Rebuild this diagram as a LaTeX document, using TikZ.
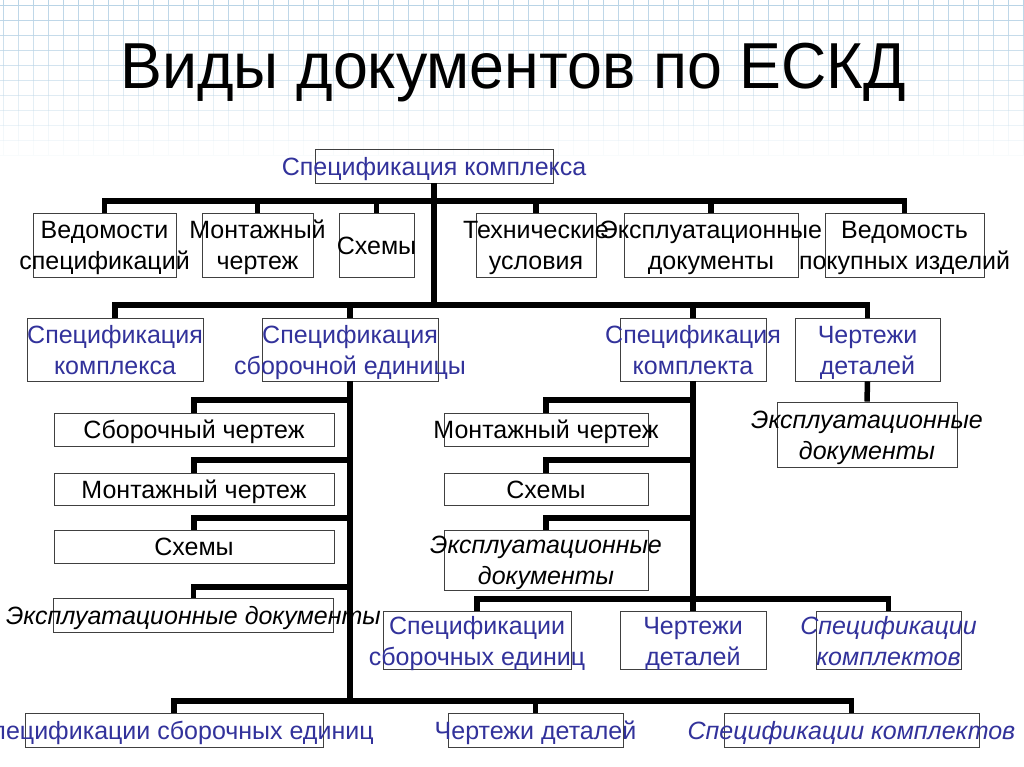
\documentclass[tikz,border=0pt]{standalone}
\usepackage{fontspec}
\setmainfont{Liberation Sans}
\definecolor{tblue}{RGB}{50,50,155}
\definecolor{gridc}{RGB}{185,212,230}
\begin{document}
\begin{tikzpicture}[x=1pt,y=-1pt,
  bx/.style={draw=black!75, line width=0.9pt, inner sep=0pt},
  tx/.style={font=\fontsize{25}{31}\selectfont, align=center, inner sep=0pt, yshift=-3pt},
  txi/.style={font=\fontsize{25}{31}\selectfont\itshape, align=center, inner sep=0pt, yshift=-3pt},
  bus/.style={line width=5.5pt, line join=miter}]
\useasboundingbox (0,0) rectangle (1024,767);
\fill[white] (0,0) rectangle (1024,767);
% grid paper, fading downwards
\foreach \r in {0,...,10} {
  \pgfmathsetmacro\op{1-\r/11}
  \draw[gridc, opacity=\op, line width=0.8pt] (0,\r*15+5) -- (1024,\r*15+5);
  \draw[gridc, opacity=\op, line width=0.8pt] \foreach \c in {0,...,68} {(\c*15+3,\r*15-10) -- ++(0,15)};
}
% title
\node[font=\fontsize{65}{70}\selectfont, anchor=base, xscale=0.965] (title) at (513,89) {Виды документов по ЕСКД};
% top
\node[bx, minimum width=238pt, minimum height=34pt] (top) at (434,166) {};
\node[tx, text=tblue] (topt) at (top) {\strut Спецификация комплекса};
% level 1
\node[bx, minimum width=143pt, minimum height=64pt] (vs) at (104.5,245) {};
\node[tx] (vst) at (vs) {\strut Ведомости\\\strut спецификаций};
\node[bx, minimum width=111pt, minimum height=64pt] (mc) at (257.5,245) {};
\node[tx] (mct) at (mc) {\strut Монтажный\\\strut чертеж};
\node[bx, minimum width=75pt, minimum height=64pt] (sh) at (376.5,245) {};
\node[tx] (sht) at (sh) {\strut Схемы};
\node[bx, minimum width=120pt, minimum height=64pt] (tu) at (536,245) {};
\node[tx] (tut) at (tu) {\strut Технические\\\strut условия};
\node[bx, minimum width=174pt, minimum height=64pt] (ed) at (711,245) {};
\node[tx] (edt) at (ed) {\strut Эксплуатационные\\\strut документы};
\node[bx, minimum width=159pt, minimum height=64pt] (vp) at (904.5,245) {};
\node[tx] (vpt) at (vp) {\strut Ведомость\\\strut покупных изделий};
% level 2
\node[bx, minimum width=176pt, minimum height=63pt] (sk) at (115,349.5) {};
\node[tx, text=tblue] (skt0) at (sk) {\strut Спецификация\\\strut комплекса};
\node[bx, minimum width=176pt, minimum height=63pt] (sse) at (350,349.5) {};
\node[tx, text=tblue] (sset) at (sse) {\strut Спецификация\\\strut сборочной единицы};
\node[bx, minimum width=146pt, minimum height=63pt] (skt) at (693,349.5) {};
\node[tx, text=tblue] (sktt) at (skt) {\strut Спецификация\\\strut комплекта};
\node[bx, minimum width=145pt, minimum height=63pt] (cd) at (867.5,349.5) {};
\node[tx, text=tblue] (cdt) at (cd) {\strut Чертежи\\\strut деталей};
% right under cd
\node[bx, minimum width=180pt, minimum height=65pt] (ed2) at (867,434.5) {};
\node[txi] (ed2t) at (ed2) {\strut Эксплуатационные\\\strut документы};
% left column
\node[bx, minimum width=280pt, minimum height=33pt] (l1) at (194,429.5) {};
\node[tx] (l1t) at (l1) {\strut Сборочный чертеж};
\node[bx, minimum width=280pt, minimum height=32pt] (l2) at (194,489) {};
\node[tx] (l2t) at (l2) {\strut Монтажный чертеж};
\node[bx, minimum width=280pt, minimum height=33pt] (l3) at (194,546.5) {};
\node[tx] (l3t) at (l3) {\strut Схемы};
\node[bx, minimum width=280pt, minimum height=34pt] (l4) at (193.5,615) {};
\node[txi] (l4t) at (l4) {\strut Эксплуатационные документы};
% middle column
\node[bx, minimum width=204pt, minimum height=33pt] (m1) at (546,429.5) {};
\node[tx] (m1t) at (m1) {\strut Монтажный чертеж};
\node[bx, minimum width=204pt, minimum height=32pt] (m2) at (546,489) {};
\node[tx] (m2t) at (m2) {\strut Схемы};
\node[bx, minimum width=204pt, minimum height=60pt] (m3) at (546,560) {};
\node[txi] (m3t) at (m3) {\strut Эксплуатационные\\\strut документы};
% level 3b
\node[bx, minimum width=188pt, minimum height=58pt] (ssb) at (477,640.5) {};
\node[tx, text=tblue] (ssbt) at (ssb) {\strut Спецификации\\\strut сборочных единиц};
\node[bx, minimum width=146pt, minimum height=58pt] (cd2) at (693,640.5) {};
\node[tx, text=tblue] (cd2t) at (cd2) {\strut Чертежи\\\strut деталей};
\node[bx, minimum width=145pt, minimum height=58pt] (skm) at (888.5,640.5) {};
\node[txi, text=tblue] (skmt) at (skm) {\strut Спецификации\\\strut комплектов};
% bottom row
\node[bx, minimum width=298pt, minimum height=34pt] (b1) at (174,730) {};
\node[tx, text=tblue] (b1t) at (b1) {\strut Спецификации сборочных единиц};
\node[bx, minimum width=175pt, minimum height=34pt] (b2) at (535.5,730) {};
\node[tx, text=tblue] (b2t) at (b2) {\strut Чертежи деталей};
\node[bx, minimum width=255pt, minimum height=34pt] (b3) at (851.5,730) {};
\node[txi, text=tblue] (b3t) at (b3) {\strut Спецификации комплектов};
% connectors
\coordinate (j1) at (434,201);
\coordinate (j2) at (434,305);
\coordinate (j3) at (350,701);
\coordinate (k4) at (693,599);
\draw[bus] (top.south) -- (j2);
\draw[bus] (vs.north) |- (j1) -| (vp.north);
\foreach \n in {mc,sh,tu,ed} \draw[bus] (\n.north) -- (\n.north |- j1);
\draw[bus] (sk.north) |- (j2) -| (cd.north);
\draw[bus] (sse.north) -- (sse.north |- j2);
\draw[bus] (skt.north) -- (skt.north |- j2);
\draw[bus] (cd.south) -- (ed2.north);
\draw[bus] (sse.south) -- (j3);
\coordinate (a1) at (350,400);
\coordinate (a2) at (350,460);
\coordinate (a3) at (350,518);
\coordinate (a4) at (350,587);
\draw[bus] (l1.north) |- (a1);
\draw[bus] (l2.north) |- (a2);
\draw[bus] (l3.north) |- (a3);
\draw[bus] (l4.north) |- (a4);
\draw[bus] (skt.south) -- (k4);
\coordinate (c1) at (693,400);
\coordinate (c2) at (693,460);
\coordinate (c3) at (693,518);
\draw[bus] (m1.north) |- (c1);
\draw[bus] (m2.north) |- (c2);
\draw[bus] (m3.north) |- (c3);
\draw[bus] (ssb.north) |- (k4) -| (skm.north);
\draw[bus] (cd2.north) -- (k4);
\draw[bus] (b1.north) |- (j3) -| (b3.north);
\draw[bus] (b2.north) -- (b2.north |- j3);
\end{tikzpicture}
\end{document}
